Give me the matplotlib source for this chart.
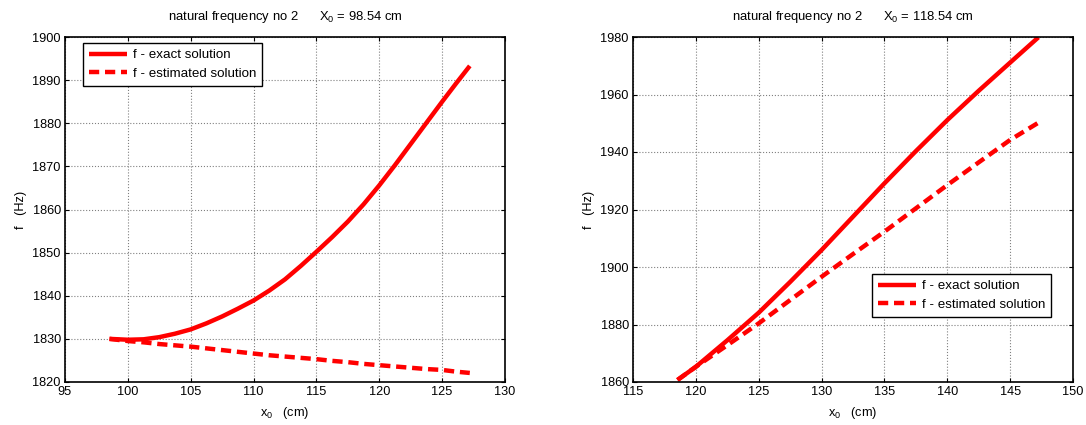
import matplotlib
matplotlib.use("Agg")
import matplotlib.pyplot as plt
import numpy as np

plt.rcParams['font.family'] = ['Liberation Sans', 'DejaVu Sans']
plt.rcParams['font.size'] = 8
plt.rcParams['mathtext.fontset'] = 'custom'
plt.rcParams['mathtext.rm'] = 'Liberation Sans'

# Left panel data (X0 = 98.54 cm)
x_left = [98.54, 100, 101.25, 102.5, 103.75, 105, 106.25, 107.5, 108.75, 110, 111.25, 112.5, 113.75,
          115, 116.25, 117.5, 118.75, 120, 121.25, 122.5, 123.75, 125, 126.1, 127.2]
exact_left = [1830.0, 1829.8, 1829.9, 1830.4, 1831.2, 1832.2, 1833.6, 1835.2, 1837.0, 1838.9, 1841.2, 1843.8, 1846.9,
              1850.2, 1853.6, 1857.2, 1861.2, 1865.6, 1870.3, 1875.2, 1880.1, 1885.0, 1889.2, 1893.3]
est_left = [1830.0, 1829.5, 1829.2, 1828.8, 1828.5, 1828.2, 1827.8, 1827.4, 1827.0, 1826.6, 1826.2, 1825.9, 1825.6,
            1825.3, 1824.9, 1824.6, 1824.2, 1823.9, 1823.6, 1823.3, 1823.0, 1822.8, 1822.4, 1822.1]

# Right panel data (X0 = 118.54 cm)
x_right = [118.54, 120, 122.5, 125, 127.5, 130, 132.5, 135, 137.5, 140, 142.5, 145, 147.25]
exact_right = [1860.7, 1865.3, 1874.5, 1884.1, 1894.8, 1905.9, 1917.5, 1929.1, 1940.3, 1951.1, 1961.3, 1971.1, 1979.9]
est_right = [1860.7, 1865.3, 1872.8, 1880.4, 1888.5, 1896.6, 1904.5, 1912.3, 1920.4, 1928.5, 1936.4, 1944.2, 1950.2]

titles = ["natural frequency no 2      $\\mathregular{X_0}$ = 98.54 cm",
          "natural frequency no 2      $\\mathregular{X_0}$ = 118.54 cm"]
legend_labels = ["f - exact solution", "f - estimated solution"]

W, H = 1086, 425
fig = plt.figure(figsize=(W / 100, H / 100), dpi=100)

def add_ax(l, r, t, b):
    return fig.add_axes([l / W, 1 - b / H, (r - l) / W, (b - t) / H])

axL = add_ax(65, 505, 37, 382)
axR = add_ax(633, 1073, 37, 382)

red = '#ff0000'
for ax, x, ye, ys, title, xlim, ylim, xt, yt, loc in [
    (axL, x_left, exact_left, est_left, titles[0], (95, 130), (1820, 1900),
     np.arange(95, 131, 5), np.arange(1820, 1901, 10), (83, 43)),
    (axR, x_right, exact_right, est_right, titles[1], (115, 150), (1860, 1980),
     np.arange(115, 151, 5), np.arange(1860, 1981, 20), (872, 274)),
]:
    ax.plot(x, ye, color=red, lw=3.2, solid_capstyle='butt', solid_joinstyle='round', label=legend_labels[0])
    ax.plot(x, ys, color=red, lw=3.2, ls=(0, (2.3, 1.3)), label=legend_labels[1])
    ax.set_xlim(*xlim)
    ax.set_ylim(*ylim)
    ax.set_xticks(xt)
    ax.set_yticks(yt)
    ax.grid(True, color='#808080', ls=':', lw=0.8)
    ax.tick_params(direction='in', length=3, width=0.8, top=True, right=True, labelsize=9.2, pad=3)
    for s in ax.spines.values():
        s.set_linewidth(1.2)
    ax.set_title(title, fontsize=9.4, pad=12)
    ax.set_xlabel("$\\mathregular{x_0}$   (cm)", fontsize=9.2, labelpad=5)
    ax.set_ylabel("f   (Hz)", fontsize=9.2, labelpad=4)
    lx, ly = loc
    leg = ax.legend(loc='upper left', bbox_to_anchor=((lx - ax.get_position().x0 * W) / (ax.get_position().width * W),
                                                      1 - (ly - 37) / 345),
                    fontsize=9.6, fancybox=False, framealpha=1, edgecolor='black',
                    handlelength=2.85, handletextpad=0.45, borderpad=0.45, labelspacing=0.45,
                    borderaxespad=0)
    leg.get_frame().set_linewidth(1.0)

fig.savefig("out.png", dpi=100)
